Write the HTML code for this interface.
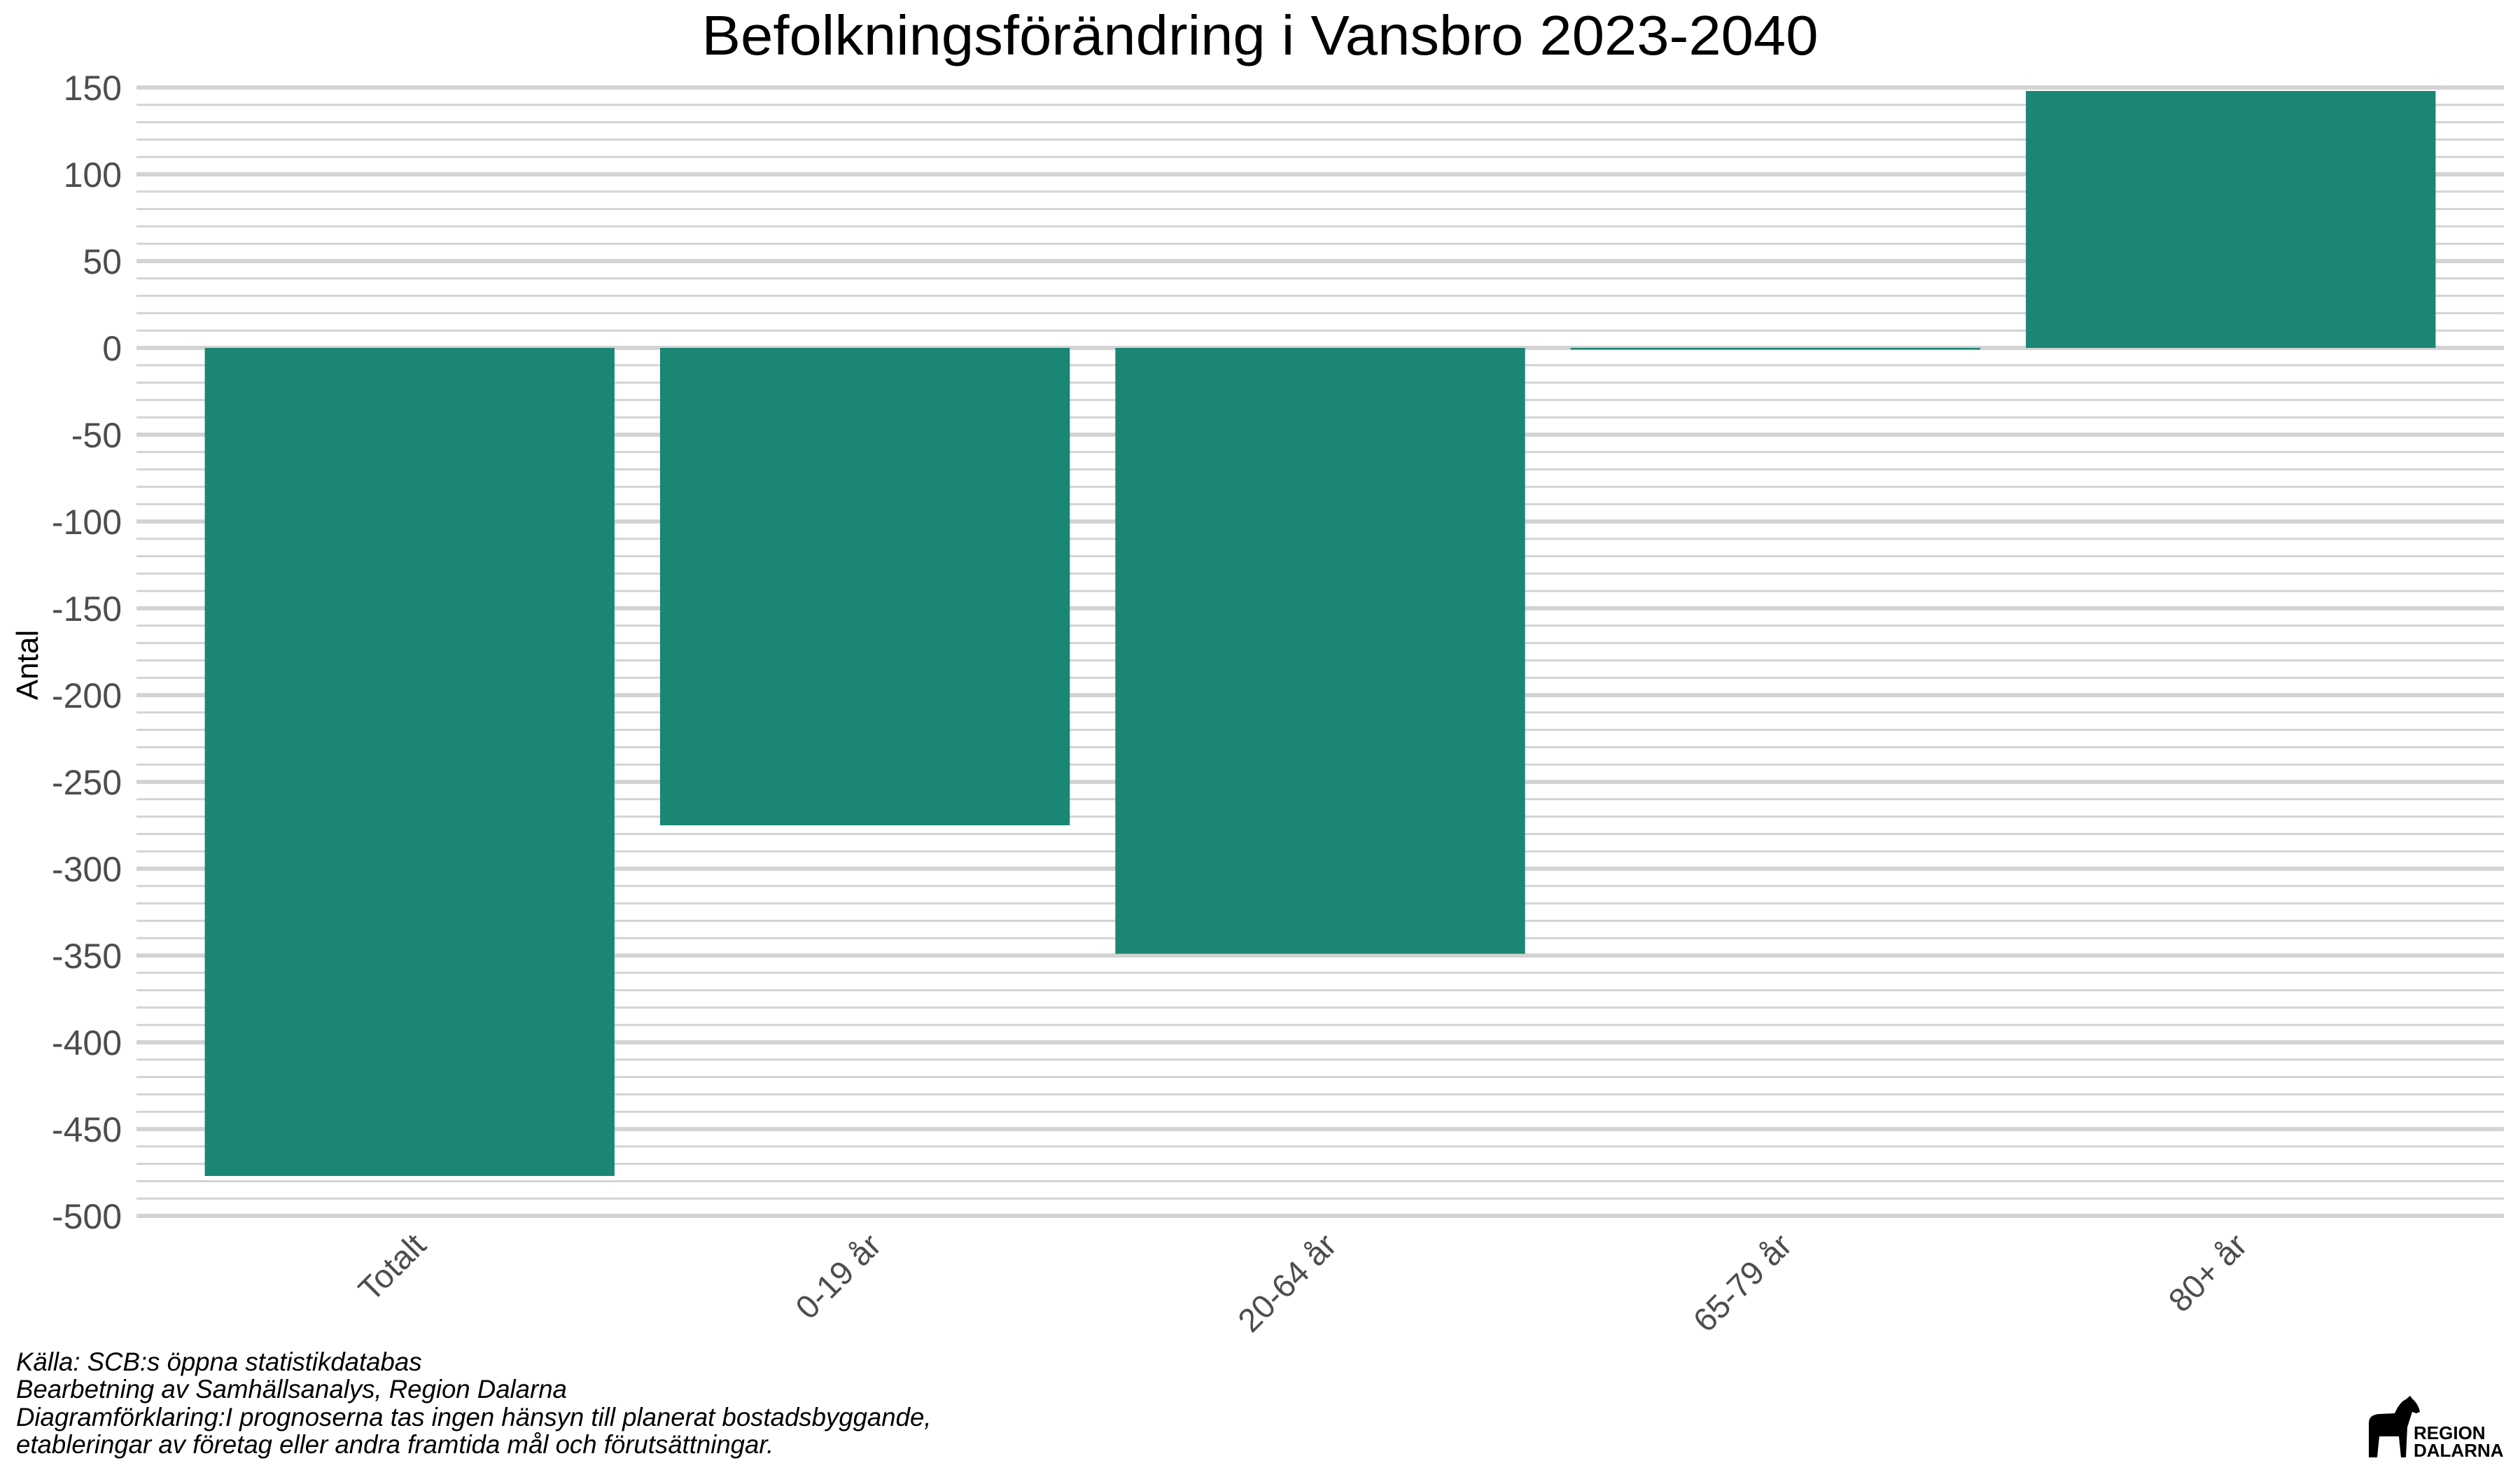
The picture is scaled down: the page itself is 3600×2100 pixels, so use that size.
<!DOCTYPE html>
<html><head><meta charset="utf-8">
<style>
html,body{margin:0;padding:0;background:#fff;}
svg{display:block;}
text{font-family:"Liberation Sans",Arial,sans-serif;}
</style></head>
<body>
<svg id="chart" width="3600" height="2100" viewBox="0 0 3600 2100" xmlns="http://www.w3.org/2000/svg">
<rect x="0" y="0" width="3600" height="2100" fill="#fff"/>
<text x="1800" y="78" font-size="80" text-anchor="middle" textLength="1595" lengthAdjust="spacingAndGlyphs" fill="#000">Befolkningsförändring i Vansbro 2023-2040</text>
<g id="grid"></g>
<g id="bars"></g>
<g id="yticks"></g>
<g id="xticks"></g>
<text transform="translate(54,950) rotate(-90)" font-size="44" text-anchor="middle" fill="#000">Antal</text>
<g font-size="36.6" font-style="italic" fill="#000">
<text x="23" y="1958">Källa: SCB:s öppna statistikdatabas</text>
<text x="23" y="1997">Bearbetning av Samhällsanalys, Region Dalarna</text>
<text x="23" y="2037">Diagramförklaring:I prognoserna tas ingen hänsyn till planerat bostadsbyggande,</text>
<text x="23" y="2076">etableringar av företag eller andra framtida mål och förutsättningar.</text>
</g>
<g>
<path d="M3384 2082 L3384 2033 Q3384 2021 3399 2020 L3421 2019 Q3428 2003 3437 1999 L3443 1994 L3446 1998 Q3455 2006 3457 2017 L3452 2019 L3446 2017 L3439 2039 L3437 2082 L3430 2082 L3427 2052 L3399 2052 L3396 2082 Z" fill="#000"/>
<text x="3448" y="2056" font-size="26" font-weight="bold" fill="#000">REGION</text>
<text x="3448" y="2081" font-size="26" font-weight="bold" fill="#000">DALARNA</text>
</g>
</svg>
<script>
const categories = ["Totalt", "0-19 år", "20-64 år", "65-79 år", "80+ år"];
const values = [-477, -275, -349, -1, 148];
const yTicks = [150, 100, 50, 0, -50, -100, -150, -200, -250, -300, -350, -400, -450, -500];
const yMinorStep = 10;

const NS = "http://www.w3.org/2000/svg";
const plotLeft = 195, plotRight = 3577;
const y0px = 497, pxPerUnit = 2.48;
function yScale(v){ return y0px - v * pxPerUnit; }
const band = (plotRight - plotLeft) / (categories.length - 1 + 1.2);
function xCenter(i){ return plotLeft + band * (0.6 + i); }
const barW = band * 0.9;

const grid = document.getElementById('grid');
const yMax = Math.max(...yTicks), yMin = Math.min(...yTicks);
for (let v = yMin; v <= yMax; v += yMinorStep) {
  const major = yTicks.includes(v);
  const l = document.createElementNS(NS, 'line');
  
  
  l.setAttribute('x1', plotLeft); l.setAttribute('x2', plotRight);
  l.setAttribute('y1', yScale(v)); l.setAttribute('y2', yScale(v));
  l.setAttribute('stroke', '#d3d3d3');
  l.setAttribute('stroke-width', major ? 6 : 3);
  grid.appendChild(l);
}

const yt = document.getElementById('yticks');
yTicks.forEach(v => {
  const t = document.createElementNS(NS, 'text');
  
  
  t.setAttribute('x', 174); t.setAttribute('y', yScale(v) + 18);
  t.setAttribute('text-anchor', 'end');
  t.setAttribute('font-size', '50');
  t.setAttribute('fill', '#4d4d4d');
  t.textContent = v;
  yt.appendChild(t);
});

const bars = document.getElementById('bars');
values.forEach((v, i) => {
  const r = document.createElementNS(NS, 'rect');
  
  
  const top = Math.min(yScale(v), yScale(0)), h = Math.abs(yScale(v) - yScale(0));
  r.setAttribute('x', xCenter(i) - barW / 2);
  r.setAttribute('y', top);
  r.setAttribute('width', barW);
  r.setAttribute('height', Math.max(h, 2));
  r.setAttribute('fill', '#1a8673');
  bars.appendChild(r);
});

const xt = document.getElementById('xticks');
categories.forEach((c, i) => {
  const t = document.createElementNS(NS, 'text');
  
  
  const x = xCenter(i) + 26, y = 1782;
  t.setAttribute('transform', 'translate(' + x + ',' + y + ') rotate(-45)');
  t.setAttribute('text-anchor', 'end');
  t.setAttribute('font-size', '47');
  t.setAttribute('fill', '#4d4d4d');
  t.textContent = c;
  xt.appendChild(t);
});
</script>
</body></html>
